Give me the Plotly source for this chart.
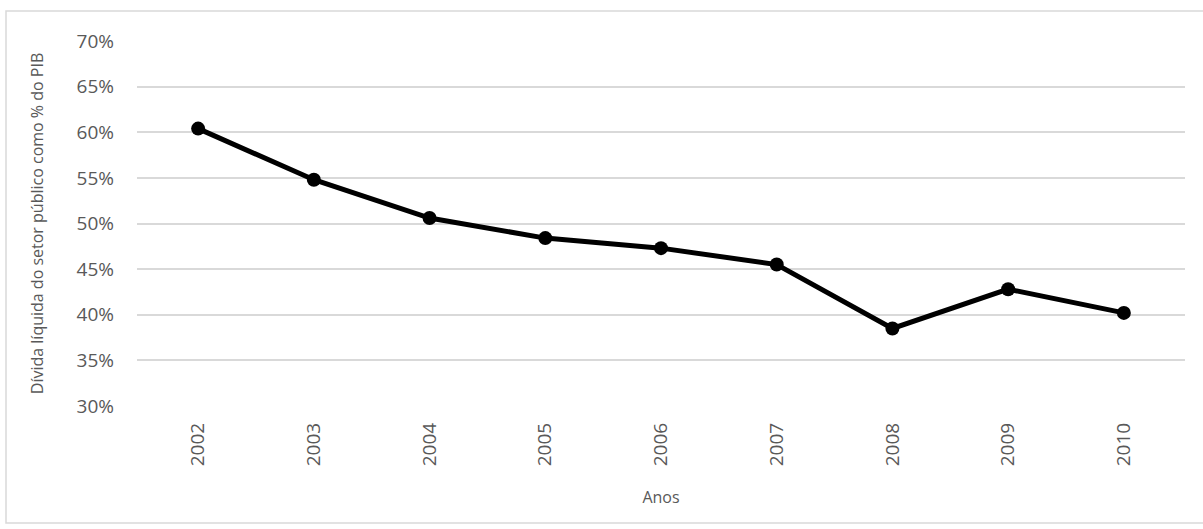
import plotly.graph_objects as go

anos = ["2002", "2003", "2004", "2005", "2006", "2007", "2008", "2009", "2010"]
divida = [0.604, 0.548, 0.506, 0.484, 0.473, 0.455, 0.385, 0.428, 0.402]
y_ticks = [0.30, 0.35, 0.40, 0.45, 0.50, 0.55, 0.60, 0.65, 0.70]
y_tick_labels = ["30%", "35%", "40%", "45%", "50%", "55%", "60%", "65%", "70%"]

W, H = 1203, 529
L, R, T, B = 137, 18, 41, 123

fig = go.Figure()
fig.add_trace(go.Scatter(
    x=anos, y=divida, mode="lines+markers",
    line=dict(color="black", width=5),
    marker=dict(color="black", size=14),
    showlegend=False,
))

font = "Open Sans, Noto Sans, sans-serif"
fig.update_layout(
    width=W, height=H,
    margin=dict(l=L, r=R, t=T, b=B),
    paper_bgcolor="white", plot_bgcolor="white",
    font=dict(family=font, color="#595959"),
    xaxis=dict(
        type="category", tickangle=-90,
        tickfont=dict(size=19, color="#595959"),
        showgrid=False, zeroline=False, showline=False, ticks="",
        ticklabelstandoff=12,
        title=dict(text="Anos", font=dict(size=16, color="#595959"), standoff=26),
    ),
    yaxis=dict(
        range=[0.30, 0.70], tickvals=y_ticks, ticktext=y_tick_labels,
        tickfont=dict(size=19, color="#595959"),
        showgrid=True, gridcolor="#d9d9d9", gridwidth=1.5,
        zeroline=False, showline=False, ticks="",
        ticklabelstandoff=22,
        title=dict(text="Dívida líquida do setor público como % do PIB",
                   font=dict(size=16, color="#595959"), standoff=28),
    ),
)

# outer chart border
pw = W - L - R
ph = H - T - B
def px(x): return (x - L) / pw
def py(y): return (H - B - y) / ph
fig.add_shape(type="rect", xref="paper", yref="paper",
              x0=px(6), x1=px(1210), y0=py(523), y1=py(11),
              line=dict(color="#d9d9d9", width=1.5), fillcolor="rgba(0,0,0,0)", layer="below")

fig.write_html("out.html")
